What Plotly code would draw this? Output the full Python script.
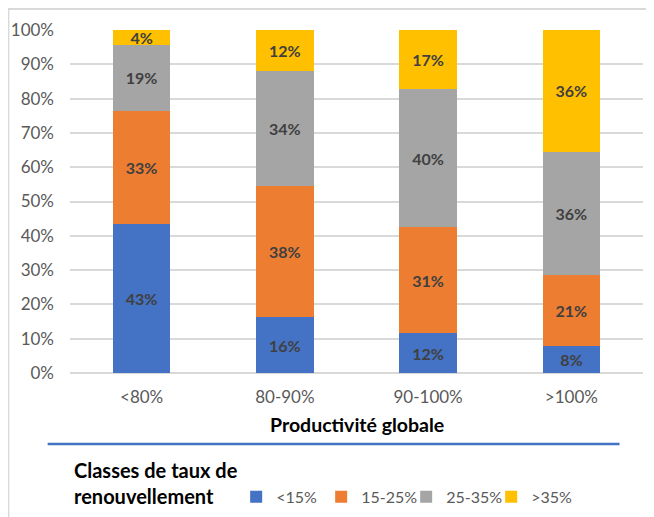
import plotly.graph_objects as go

# categories (x axis) and series (stack parts), values in percent
categories = ['<80%', '80-90%', '90-100%', '>100%']
series_names = ['<15%', '15-25%', '25-35%', '>35%']
v_lt15 = [43.3, 16.3, 11.6, 7.8]
v_15_25 = [33.2, 38.2, 31.0, 20.9]
v_25_35 = [19.1, 33.5, 40.1, 35.8]
v_gt35 = [4.4, 12.0, 17.3, 35.5]
y_ticks = [0, 10, 20, 30, 40, 50, 60, 70, 80, 90, 100]
y_tick_text = [f'{v}%' for v in y_ticks]

colors = ['#4472C4', '#ED7D31', '#A5A5A5', '#FFC000']
FONT = 'Lato, "Open Sans", Arial, sans-serif'

fig = go.Figure()
for name, vals, col in zip(series_names, [v_lt15, v_15_25, v_25_35, v_gt35], colors):
    fig.add_trace(go.Bar(
        x=categories,
        y=vals,
        name=name,
        marker=dict(color=col, line=dict(width=0)),
        texttemplate='%{y:.0f}%',
        textposition='inside',
        insidetextanchor='middle',
        textangle=0,
        constraintext='none',
        textfont=dict(family=FONT, size=16, color='#404040', weight='bold'),
    ))

# page body has an 8px margin, so the figure is a bit smaller than the window
fig.update_layout(
    barmode='stack',
    bargap=0.6,
    width=646,
    height=509,
    margin=dict(l=62, r=11, t=22, b=144, autoexpand=False),
    paper_bgcolor='#FFFFFF',
    plot_bgcolor='#FFFFFF',
    font=dict(family=FONT, size=16, color='#595959'),
    showlegend=True,
    legend=dict(
        orientation='h',
        x=0.29, y=-0.361,
        xanchor='left', yanchor='middle',
        font=dict(size=16, color='#595959'),
        entrywidth=40,
        itemwidth=30,
        traceorder='normal',
    ),
    xaxis=dict(
        showgrid=False,
        showline=False,
        ticks='',
        ticklabelstandoff=12,
        tickfont=dict(size=17, color='#595959'),
    ),
    yaxis=dict(
        range=[0, 100],
        tickmode='array',
        tickvals=y_ticks,
        ticktext=y_tick_text,
        showgrid=True,
        gridcolor='#D9D9D9',
        gridwidth=1.5,
        zeroline=True,
        zerolinecolor='#D9D9D9',
        zerolinewidth=1.5,
        ticklabelstandoff=15,
        tickfont=dict(size=17, color='#595959'),
    ),
)

# axis title and legend title as annotations
fig.add_annotation(
    text='<b>Productivité globale</b>', xref='paper', yref='paper',
    x=0.5, y=-0.149, xanchor='center', yanchor='middle', showarrow=False,
    font=dict(family=FONT, size=19.5, color='#000000'),
)
fig.add_annotation(
    text='<b>Classes de taux de<br>renouvellement</b>', xref='paper', yref='paper',
    x=0.003, y=-0.321, xanchor='left', yanchor='middle', align='left',
    showarrow=False,
    font=dict(family=FONT, size=20, color='#000000'),
)

# blue separator line and outer frame
fig.add_shape(type='line', xref='paper', yref='paper',
              x0=-0.039, x1=0.959, y0=-0.207, y1=-0.207,
              line=dict(color='#4472C4', width=2.5))
fig.add_shape(type='rect', xref='paper', yref='paper',
              x0=-0.108, x1=1.2, y0=-0.6, y1=1.062,
              line=dict(color='#D9D9D9', width=2.5))

fig.write_html('out.html')
